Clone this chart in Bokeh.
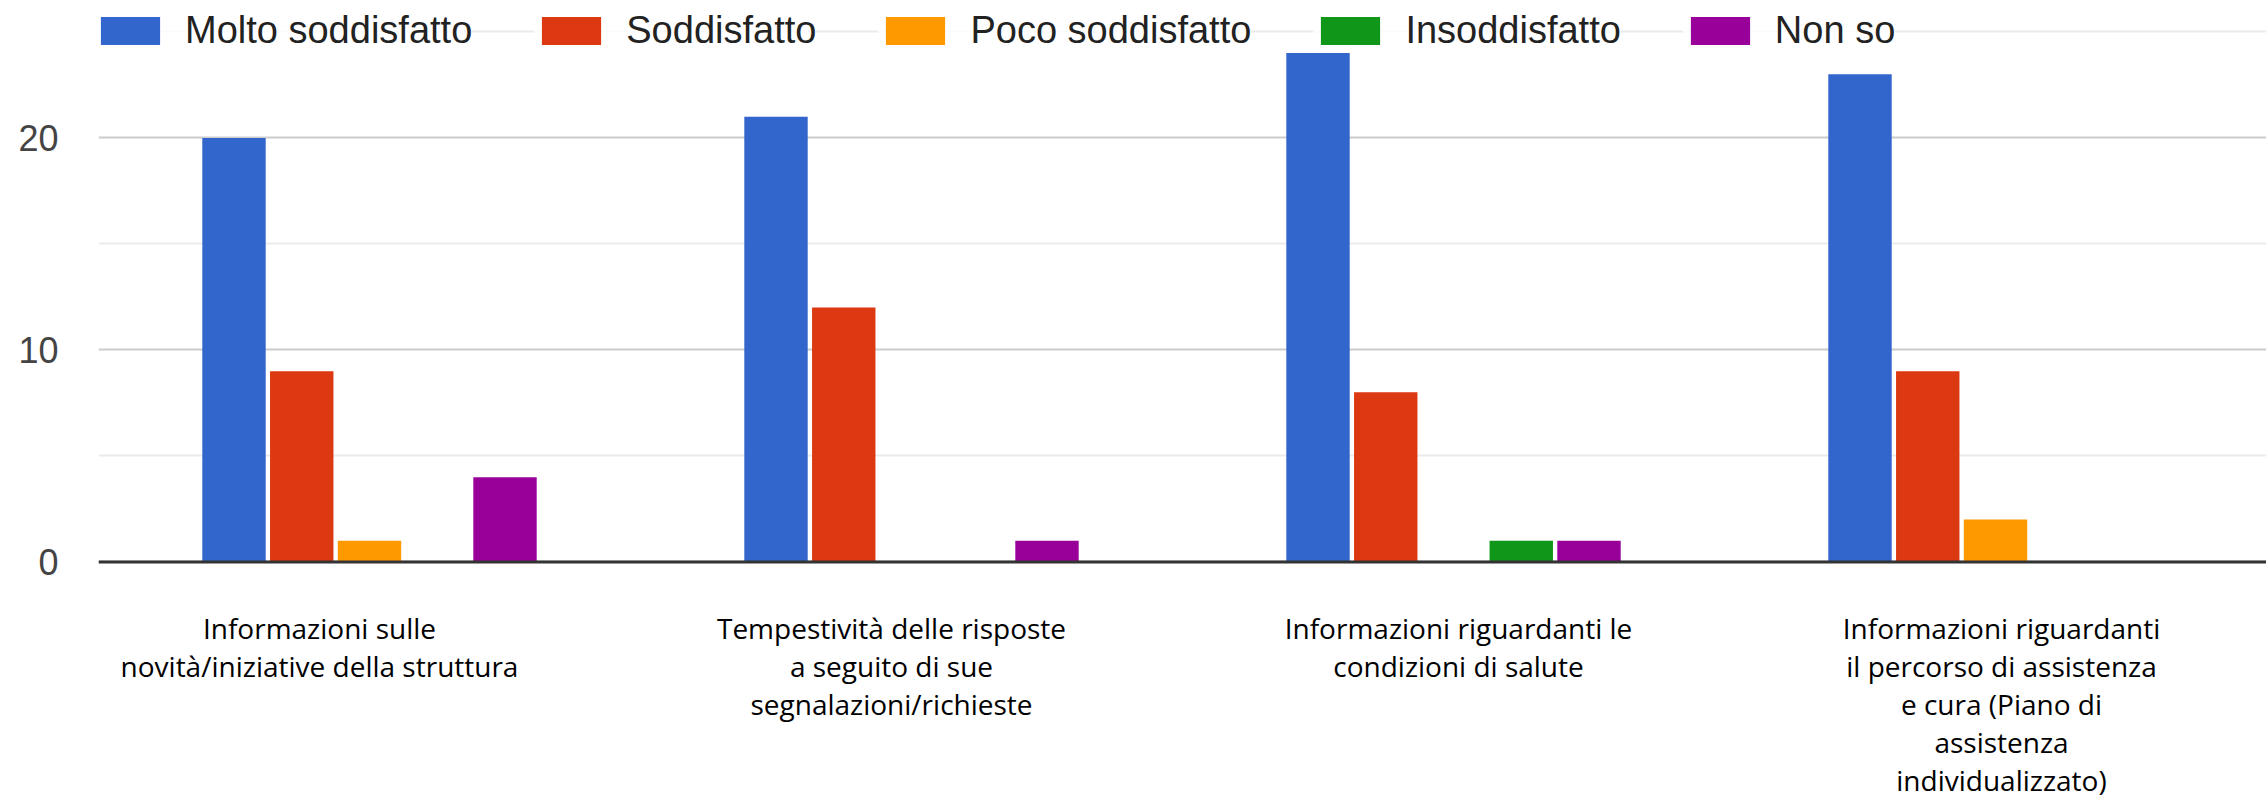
from bokeh.plotting import figure
from bokeh.models import (FactorRange, Range1d, FixedTicker, Span, Legend,
                          LegendItem, ColumnDataSource)
from bokeh.transform import dodge
from bokeh.core.properties import value
from bokeh.embed import file_html
from bokeh.resources import INLINE

# ---------------- data ----------------
categories = [
    "Informazioni sulle novità/iniziative della struttura",
    "Tempestività delle risposte a seguito di sue segnalazioni/richieste",
    "Informazioni riguardanti le condizioni di salute",
    "Informazioni riguardanti il percorso di assistenza e cura (Piano di assistenza individualizzato)",
]
category_labels = [
    "Informazioni sulle\nnovità/iniziative della struttura",
    "Tempestività delle risposte\na seguito di sue\nsegnalazioni/richieste",
    "Informazioni riguardanti le\ncondizioni di salute",
    "Informazioni riguardanti\nil percorso di assistenza\ne cura (Piano di\nassistenza\nindividualizzato)",
]
series_names = ["Molto soddisfatto", "Soddisfatto", "Poco soddisfatto", "Insoddisfatto", "Non so"]
molto_soddisfatto = [20, 21, 24, 23]
soddisfatto = [9, 12, 8, 9]
poco_soddisfatto = [1, 0, 0, 2]
insoddisfatto = [0, 0, 1, 0]
non_so = [4, 1, 1, 0]
y_major_ticks = [0, 10, 20]
y_minor_ticks = [5, 15, 25]

# ---------------- styles ----------------
colors = ["#3366cc", "#dc3912", "#ff9900", "#109618", "#990099"]
offsets = [-0.25, -0.125, 0.0, 0.125, 0.25]
label_dx = [-50, -20, 5, 6]

src = ColumnDataSource(dict(
    cat=categories,
    s0=molto_soddisfatto, s1=soddisfatto, s2=poco_soddisfatto,
    s3=insoddisfatto, s4=non_so,
))
lab_src = ColumnDataSource(dict(cat=categories, label=category_labels, dx=label_dx))

p = figure(
    x_range=FactorRange(factors=categories, range_padding=0),
    y_range=Range1d(-11.11, 26.01),
    width=2266, height=797,
    output_backend="svg", toolbar_location=None,
    min_border_left=98, min_border_right=0, min_border_top=10, min_border_bottom=0,
)
p.outline_line_color = None
p.background_fill_color = "white"
p.xaxis.visible = False
p.xgrid.visible = False

ax = p.yaxis[0]
ax.ticker = FixedTicker(ticks=y_major_ticks, minor_ticks=y_minor_ticks)
ax.axis_line_color = None
ax.major_tick_line_color = None
ax.minor_tick_line_color = None
ax.major_tick_out = 0
ax.major_tick_in = 0
ax.minor_tick_out = 0
ax.minor_tick_in = 0
ax.major_label_standoff = 40
ax.major_label_text_font = "Liberation Sans"
ax.major_label_text_font_size = "36px"
ax.major_label_text_color = "#444444"

g = p.ygrid[0]
g.grid_line_color = "#cccccc"
g.grid_line_width = 2
g.minor_grid_line_color = "#ebebeb"
g.minor_grid_line_width = 2

renderers = []
for i, name in enumerate(series_names):
    r = p.vbar(x=dodge("cat", offsets[i], range=p.x_range), top="s%d" % i,
               width=0.117, source=src, fill_color=colors[i], line_color=None)
    renderers.append(r)

p.add_layout(Span(location=0, dimension="width", line_color="#333333", line_width=3))

p.text(x="cat", y=-2.2, text="label", x_offset="dx", source=lab_src,
       text_font=value("Open Sans"), text_font_size="28px",
       text_align="center", text_baseline="top", text_line_height=1.0,
       text_color="#000000")

legend = Legend(
    items=[LegendItem(label=n, renderers=[r]) for n, r in zip(series_names, renderers)],
    orientation="horizontal",
    location=(-5, 745),
    glyph_width=74, glyph_height=35,
    label_standoff=18, spacing=62, padding=0, margin=0,
    border_line_color=None, background_fill_alpha=0,
    label_text_font="Liberation Sans", label_text_font_size="38px",
    label_text_color="#222222",
    item_background_policy="every", item_background_fill_color="white",
)
p.add_layout(legend)

open("out.html", "w").write(file_html(p, INLINE))
